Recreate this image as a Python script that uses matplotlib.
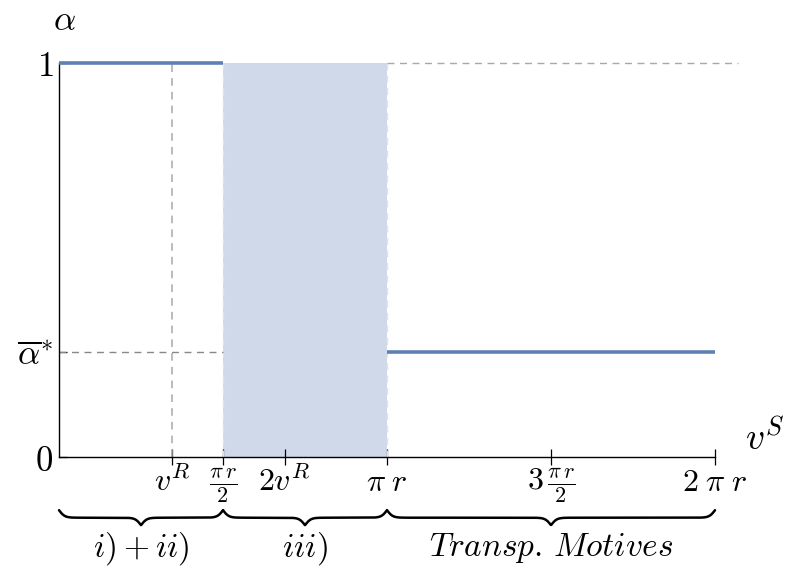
import numpy as np
import matplotlib
matplotlib.use('Agg')
import matplotlib.pyplot as plt

plt.rcParams['mathtext.fontset'] = 'cm'
plt.rcParams['font.family'] = 'serif'
plt.rcParams['font.serif'] = ['DejaVu Serif']

r = 1.0
v_R = 1.08
alpha_star = 0.266

# alpha(v^S): piecewise, undefined on the shaded interval
seg1_x = [0, np.pi * r / 2]
seg1_y = [1, 1]
seg2_x = [np.pi * r, 2 * np.pi * r]
seg2_y = [alpha_star, alpha_star]
shade_x = [np.pi * r / 2, np.pi * r]

xtick_pos = [v_R, np.pi * r / 2, 2 * v_R, np.pi * r, 3 * np.pi * r / 2, 2 * np.pi * r]
xtick_lab = [r'$v^R$', r'$\frac{\pi\,r}{2}$', r'$2v^R$', r'$\pi\;r$',
             r'$3\,\frac{\pi\,r}{2}$', r'$2\;\pi\;r$']
ytick_pos = [0, alpha_star, 1]
ytick_lab = [r'$0$', r'$\overline{\alpha}^{*}$', r'$1$']

brace_spans = [(0, np.pi * r / 2), (np.pi * r / 2, np.pi * r), (np.pi * r, 2 * np.pi * r)]
brace_lab = [r'$i)+ii)$', r'$iii)$', r'$Transp.\,Motives$']

blue = '#5e81b5'
fill = '#cfd9ea'
grey = '#a8a8a8'

fig = plt.figure(figsize=(7.87, 5.67), dpi=100)
ax = fig.add_axes([0.075, 0.194, 0.8335, 0.695])
xmax = 2 * np.pi * r
ax.set_xlim(0, xmax)
ax.set_ylim(0, 1)

ax.axvspan(shade_x[0], shade_x[1], ymin=0, ymax=1, color=fill, lw=0, zorder=1)

# guide lines
ax.plot([v_R, v_R], [0, 1], ls=(0, (5, 4)), color=grey, lw=1.1, zorder=2)
ax.plot([shade_x[0]] * 2, [0, 1], ls=(0, (5, 4)), color='#dfe4ec', lw=1.0, zorder=2)
ax.plot([shade_x[1]] * 2, [0, 1], ls=(0, (5, 4)), color='#dfe4ec', lw=1.0, zorder=2)
ax.plot([0, np.pi * r / 2], [alpha_star] * 2, ls=(0, (5, 4)), color='#888888', lw=1.0, zorder=2)
ax.plot([np.pi * r, xmax * 1.035], [1, 1], ls=(0, (5, 4)), color=grey, lw=1.0,
        zorder=2, clip_on=False)

ax.plot(seg1_x, seg1_y, color=blue, lw=2.6, zorder=3, clip_on=False, solid_capstyle='butt')
ax.plot(seg2_x, seg2_y, color=blue, lw=2.6, zorder=3, clip_on=False, solid_capstyle='butt')

for s in ['top', 'right']:
    ax.spines[s].set_visible(False)
for s in ['left', 'bottom']:
    ax.spines[s].set_linewidth(1.0)

ax.set_xticks(xtick_pos)
ax.set_xticklabels(xtick_lab, fontsize=23)
ax.set_yticks(ytick_pos)
ax.set_yticklabels(ytick_lab, fontsize=25)
ax.tick_params(axis='x', direction='inout', length=12, width=0.9, pad=1)
ax.tick_params(axis='y', direction='in', length=6, width=0.9, pad=4)

ax.text(0.009, 1.11, r'$\alpha$', fontsize=25, transform=ax.transAxes,
        ha='center', va='center')
ax.text(1.045, 0.045, r'$v^S$', fontsize=27, transform=ax.transAxes,
        ha='left', va='center')

# curly braces under the axis
px_x = 656 / xmax
px_y = 394.0
def brace(x0, x1, ytop, hpx=15, beta=0.35):
    wpx = (x1 - x0) * px_x
    xs = np.linspace(0, wpx, 600)
    half = np.where(xs < wpx / 2, xs, wpx - xs)
    shape = (1 / (1 + np.exp(-beta * (half - 0))) +
             1 / (1 + np.exp(-beta * (half - wpx / 2)))) - 0.5
    ax.plot(x0 + xs / px_x, ytop - shape * hpx / px_y, color='black', lw=1.8,
            clip_on=False, solid_capstyle='round')

for (a, b), lab in zip(brace_spans, brace_lab):
    brace(a, b, -0.135)
    ax.text((a + b) / 2, -0.232, lab, fontsize=24, ha='center', va='center')

fig.savefig('out.png', dpi=100)
